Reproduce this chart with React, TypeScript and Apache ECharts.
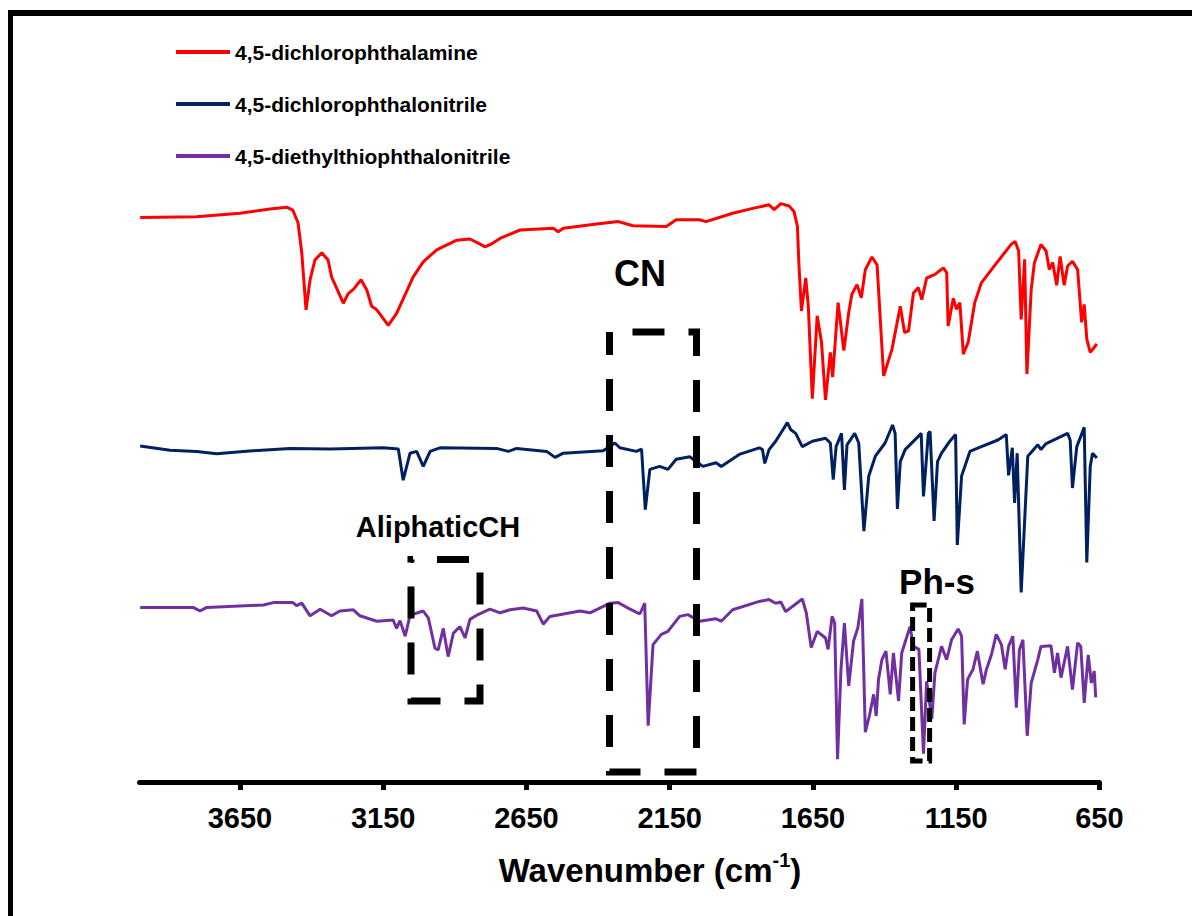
import React, { useEffect, useRef } from "react";
import * as echarts from "echarts";

const FONT = '"Liberation Sans", Arial, sans-serif';

const seriesNames = [
  "4,5-dichlorophthalamine",
  "4,5-dichlorophthalonitrile",
  "4,5-diethylthiophthalonitrile",
];
const seriesColors = ["#FF0000", "#002060", "#7030A0"];

const tickValues = [650, 1150, 1650, 2150, 2650, 3150, 3650];

// [wavenumber (cm-1), offset transmittance (a.u.)]
const dichlorophthalamine: [number, number][] = [
  [3998, 94.1], [3801, 94.2], [3650, 94.8], [3545, 95.5], [3487, 95.8], [3465, 95.3], [3447, 93.2],
  [3434, 88.2], [3419, 78.7], [3405, 83.7], [3388, 87], [3364, 88.2], [3342, 87], [3330, 84.2],
  [3289, 79.8], [3272, 81.4], [3254, 82.1], [3227, 83.7], [3207, 82], [3190, 79.3], [3172, 78.7],
  [3132, 76.1], [3103, 78.1], [3045, 84.2], [3010, 86.7], [2963, 88.7], [2893, 90.3], [2847, 90.5],
  [2818, 89.8], [2794, 89.2], [2771, 89.7], [2742, 90.6], [2672, 92], [2556, 92.3], [2539, 91.7],
  [2521, 92.3], [2405, 93], [2329, 93.4], [2278, 92.7], [2162, 92.6], [2127, 93.7], [2046, 93.7],
  [2023, 93.4], [1930, 94.8], [1860, 95.6], [1803, 96.2], [1785, 95.4], [1762, 96.4], [1733, 96],
  [1716, 95.1], [1704, 92.6], [1699, 86.5], [1690, 78.5], [1675, 84], [1666, 79.3], [1652, 63.9],
  [1635, 77.7], [1620, 73.3], [1606, 63.7], [1589, 71.6], [1581, 67.5], [1562, 79.9], [1542, 71.9],
  [1525, 78.2], [1514, 81.3], [1496, 82.9], [1481, 80.7], [1467, 85.4], [1444, 87.5], [1426, 86.2],
  [1403, 67.7], [1374, 72.1], [1345, 79.3], [1330, 74.9], [1316, 75.2], [1299, 81.5], [1282, 82.4],
  [1270, 80.4], [1253, 84], [1224, 84.6], [1195, 85.7], [1183, 84.9], [1178, 76], [1160, 80.6],
  [1149, 78.8], [1137, 79.9], [1125, 71.3], [1108, 73.3], [1085, 79.9], [1062, 83.2], [1004, 86.8],
  [958, 89.6], [944, 90.1], [932, 88.5], [923, 77.1], [911, 87.1], [903, 68], [888, 82.1], [877, 86.5],
  [854, 89.6], [836, 88.5], [825, 85.4], [813, 86.6], [799, 82.8], [787, 87.6], [773, 82.8], [761, 86],
  [744, 86.8], [726, 85.4], [712, 76.6], [703, 79.6], [694, 73.8], [682, 71.6], [659, 73],
];

const dichlorophthalonitrile: [number, number][] = [
  [3998, 56], [3894, 55.3], [3801, 55.1], [3731, 54.7], [3638, 55.1], [3475, 55.6], [3335, 55.5],
  [3149, 55.7], [3097, 55.5], [3080, 50.3], [3056, 54.8], [3033, 55.1], [3010, 52.6], [2986, 55.1],
  [2952, 55.7], [2754, 55.6], [2713, 55.1], [2684, 55.6], [2579, 55.1], [2550, 54.1], [2521, 54.8],
  [2382, 55.2], [2341, 56.5], [2324, 55.7], [2266, 55.1], [2248, 55.5], [2235, 45.4], [2219, 52.1],
  [2185, 52.6], [2156, 52.1], [2127, 53.8], [2080, 54.2], [2034, 52.6], [1988, 53.2], [1970, 52.6],
  [1907, 54.6], [1837, 55.7], [1826, 55.4], [1818, 53.1], [1803, 55.4], [1780, 56.8], [1739, 59.9],
  [1727, 58.7], [1710, 58.1], [1687, 55.9], [1652, 56.8], [1606, 57.3], [1589, 56.5], [1579, 50.4],
  [1569, 55.9], [1550, 58.1], [1540, 48.7], [1531, 56.2], [1504, 58.1], [1490, 56.5], [1472, 41.8],
  [1455, 51], [1432, 54.3], [1398, 56.5], [1372, 59.5], [1363, 58.1], [1355, 45.5], [1345, 53.4],
  [1328, 55.4], [1282, 57.6], [1272, 58.1], [1264, 47.6], [1247, 58.1], [1241, 58.4], [1227, 43.5],
  [1215, 53.4], [1201, 54.8], [1172, 56.8], [1152, 57.9], [1146, 39.5], [1131, 51], [1102, 55.1],
  [1062, 55.9], [1004, 57], [975, 57.9], [967, 51.1], [954, 55.7], [946, 46.5], [937, 54.8],
  [923, 31.6], [900, 54.3], [865, 56.2], [854, 55.4], [836, 56.4], [761, 58.1], [752, 57], [744, 49],
  [729, 55.9], [715, 57.6], [703, 59.1], [694, 36.6], [682, 52.6], [674, 54.8], [659, 54],
];

const diethylthiophthalonitrile: [number, number][] = [
  [3998, 29.1], [3813, 29.1], [3789, 28.5], [3766, 29.1], [3568, 29.5], [3533, 29.9], [3465, 29.9],
  [3452, 29.4], [3434, 29.8], [3405, 27.7], [3370, 28.8], [3330, 27.7], [3301, 28.5], [3254, 28.7],
  [3231, 27.7], [3172, 26.8], [3115, 27], [3103, 25.6], [3091, 26.9], [3073, 24.3], [3056, 27.8],
  [3010, 28.5], [2992, 27.3], [2969, 22.3], [2958, 22], [2940, 25.6], [2923, 20.9], [2905, 24.8],
  [2882, 25.9], [2864, 24], [2847, 27.1], [2823, 27.8], [2777, 28.8], [2742, 28.2], [2707, 28.7],
  [2661, 29], [2614, 28.5], [2591, 26.3], [2568, 27.6], [2463, 28.5], [2428, 28.2], [2358, 29.8],
  [2329, 29.9], [2288, 28.8], [2254, 28], [2237, 29.8], [2225, 9.4], [2208, 22.9], [2179, 24.6],
  [2156, 25.1], [2115, 27.6], [2086, 27.9], [2046, 26.8], [1988, 27.2], [1970, 26.8], [1930, 28.7],
  [1837, 30.1], [1803, 30.4], [1780, 29.8], [1762, 30], [1745, 28.4], [1687, 30.5], [1673, 28.2],
  [1656, 22.4], [1635, 25.1], [1606, 24], [1597, 22.1], [1583, 27.6], [1574, 26.5], [1564, 3.8],
  [1552, 18.8], [1540, 26.5], [1525, 16], [1508, 23.5], [1493, 25.7], [1479, 30.5], [1467, 8.3],
  [1453, 11], [1438, 14.6], [1429, 11], [1421, 17.1], [1409, 20.4], [1395, 21.8], [1380, 14.6],
  [1369, 21.5], [1351, 13.5], [1340, 21.5], [1311, 25.9], [1299, 22.6], [1280, 22.1], [1264, 4.7],
  [1253, 16.8], [1235, 10.5], [1224, 18.2], [1201, 22.6], [1183, 20.4], [1166, 23.7], [1143, 25.5],
  [1131, 24.3], [1122, 9.6], [1110, 17.1], [1091, 18.8], [1076, 21.8], [1056, 16.3], [1044, 18.8],
  [1027, 21.2], [1010, 24.6], [992, 22.9], [979, 18.8], [967, 22.6], [952, 24.3], [940, 12.4],
  [929, 22.1], [917, 23.7], [902, 7.7], [888, 16.5], [865, 20.4], [854, 22.6], [819, 22.7], [807, 18.2],
  [796, 21.5], [784, 17.4], [761, 22.6], [744, 15.4], [726, 23.2], [715, 22.6], [703, 13.2], [689, 21.2],
  [678, 16.5], [668, 18.5], [663, 14.1],
];

const seriesData = [dichlorophthalamine, dichlorophthalonitrile, diethylthiophthalonitrile];

const annotationLabels = ["CN", "AliphaticCH", "Ph-s"];

export default function App() {
  const ref = useRef<HTMLDivElement>(null);

  useEffect(() => {
    if (!ref.current) return;
    const chart = echarts.init(ref.current, undefined, { renderer: "svg" });

    const boldText = { fontFamily: FONT, fontWeight: "bold" as const, color: "#000" };

    chart.setOption({
      animation: false,
      backgroundColor: "#fff",
      grid: { left: 139.6, right: 92.6, top: 182, bottom: 134, containLabel: false },
      legend: {
        orient: "vertical",
        left: 176,
        top: 41,
        padding: 0,
        itemWidth: 54,
        itemHeight: 4,
        itemGap: 30,
        icon: "rect",
        data: seriesNames,
        textStyle: { ...boldText, fontSize: 21, lineHeight: 22 },
      },
      xAxis: {
        type: "value",
        inverse: true,
        min: 650,
        max: 4000,
        splitLine: { show: false },
        axisLine: { show: true, lineStyle: { color: "#000", width: 5 } },
        axisTick: {
          show: true,
          length: 8,
          inside: false,
          customValues: tickValues,
          lineStyle: { color: "#000", width: 5 },
        },
        axisLabel: {
          customValues: tickValues,
          margin: 21,
          fontSize: 29,
          formatter: (v: number) => String(v),
          ...boldText,
        },
        name: "{a|Wavenumber (cm}{b|-1}{a|)}",
        nameLocation: "middle",
        nameGap: 68,
        nameTextStyle: {
          padding: [0, 0, 0, 61],
          rich: {
            a: { ...boldText, fontSize: 33, lineHeight: 40 },
            b: { ...boldText, fontSize: 20, lineHeight: 22, verticalAlign: "top" },
          },
        },
      },
      yAxis: {
        type: "value",
        min: 0,
        max: 100,
        show: false,
        splitLine: { show: false },
      },
      series: seriesNames.map((name, i) => ({
        name,
        type: "line",
        data: seriesData[i],
        showSymbol: false,
        symbol: "none",
        color: seriesColors[i],
        lineStyle: { color: seriesColors[i], width: 3 },
        z: 2,
      })),
      graphic: [
        { type: "line", shape: { x1: 10.5, y1: 10, x2: 10.5, y2: 916 }, style: { stroke: "#000", lineWidth: 5 } },
        { type: "line", shape: { x1: 8, y1: 13, x2: 1192, y2: 13 }, style: { stroke: "#000", lineWidth: 6 } },
        {
          type: "rect",
          shape: { x: 609.5, y: 332, width: 87, height: 440 },
          style: { fill: "none", stroke: "#000", lineWidth: 7, lineDash: [32, 24], lineDashOffset: 32.5 },
          z: 10,
        },
        {
          type: "rect",
          shape: { x: 411, y: 559.5, width: 69, height: 141.5 },
          style: { fill: "none", stroke: "#000", lineWidth: 7, lineDash: [32, 24], lineDashOffset: 30.3 },
          z: 10,
        },
        {
          type: "rect",
          shape: { x: 912.6, y: 605, width: 17, height: 156 },
          style: { fill: "none", stroke: "#000", lineWidth: 5, lineDash: [14, 6] },
          z: 10,
        },
        {
          type: "text",
          x: 640,
          y: 273,
          style: { text: annotationLabels[0], fontFamily: FONT, fontWeight: "bold", fontSize: 36, fill: "#000", align: "center", verticalAlign: "middle" },
          z: 10,
        },
        {
          type: "text",
          x: 438,
          y: 527,
          style: { text: annotationLabels[1], fontFamily: FONT, fontWeight: "bold", fontSize: 29, fill: "#000", align: "center", verticalAlign: "middle" },
          z: 10,
        },
        {
          type: "text",
          x: 937,
          y: 581,
          style: { text: annotationLabels[2], fontFamily: FONT, fontWeight: "bold", fontSize: 35, fill: "#000", align: "center", verticalAlign: "middle" },
          z: 10,
        },
      ],
    });

    return () => chart.dispose();
  }, []);

  return (
    <div
      ref={ref}
      style={{ position: "absolute", left: 0, top: 0, width: 1192, height: 916, background: "#fff" }}
    />
  );
}
